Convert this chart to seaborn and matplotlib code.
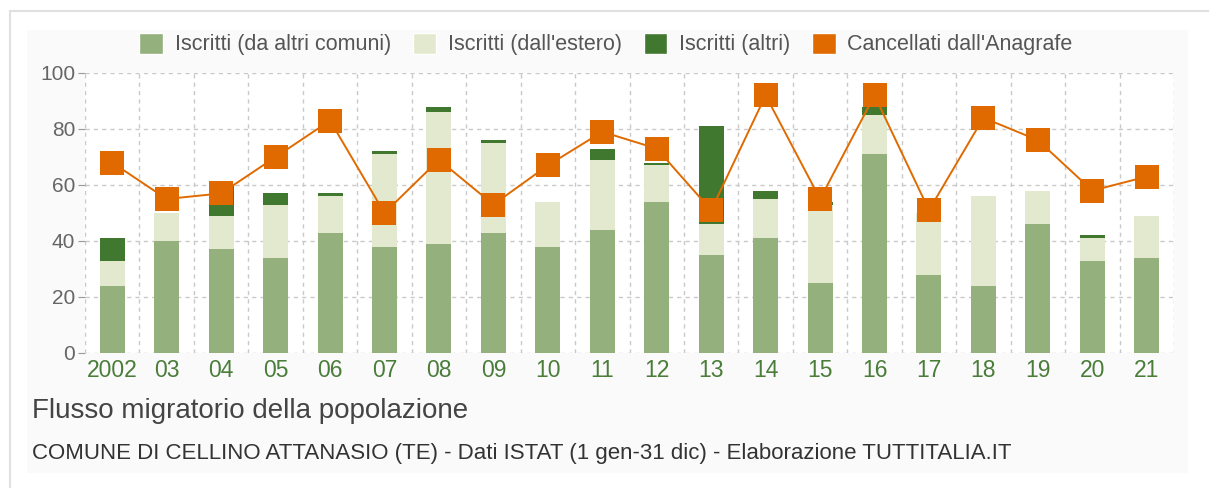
import numpy as np
import pandas as pd
import matplotlib
matplotlib.use("Agg")
import matplotlib.pyplot as plt
from matplotlib.patches import Patch, Rectangle
from matplotlib.lines import Line2D
import seaborn as sns

# 1. Data
anni = ['2002', '03', '04', '05', '06', '07', '08', '09', '10', '11',
        '12', '13', '14', '15', '16', '17', '18', '19', '20', '21']
iscritti_comuni = [24, 40, 37, 34, 43, 38, 39, 43, 38, 44, 54, 35, 41, 25, 71, 28, 24, 46, 33, 34]
iscritti_estero = [9, 10, 12, 19, 13, 33, 47, 32, 16, 25, 13, 11, 14, 28, 14, 22, 32, 12, 8, 15]
iscritti_altri = [8, 0, 11, 4, 1, 1, 2, 1, 0, 4, 1, 35, 3, 1, 3, 0, 0, 0, 1, 0]
cancellati = [68, 55, 57, 70, 83, 50, 69, 53, 67, 79, 73, 51, 92, 55, 92, 51, 84, 76, 58, 63]

df = pd.DataFrame({'anno': anni, 'comuni': iscritti_comuni, 'estero': iscritti_estero,
                   'altri': iscritti_altri, 'cancellati': cancellati})
df['top_estero'] = df['comuni'] + df['estero']
df['top_altri'] = df['top_estero'] + df['altri']

C_COMUNI = '#93b07d'
C_ESTERO = '#e3e9cf'
C_ALTRI = '#41782f'
C_CANC = '#e06a00'
GRID = '#c9c9c9'

sns.set_style('white')
plt.rcParams['font.family'] = ['Liberation Sans', 'DejaVu Sans']

fig = plt.figure(figsize=(12.09, 4.88), dpi=100)

# 2. Background frame and panel
fig.add_artist(Line2D([10 / 1209, 1.0], [1 - 11 / 488, 1 - 11 / 488], color='#e0e0e0', lw=1.5))
fig.add_artist(Line2D([10 / 1209, 10 / 1209], [0.0, 1 - 11 / 488], color='#e0e0e0', lw=1.5))
fig.add_artist(Rectangle((27 / 1209, 1 - 473 / 488), (1188 - 27) / 1209, (473 - 30) / 488,
                         facecolor='#fafafa', edgecolor='none', zorder=0))

ax = fig.add_axes([85 / 1209, 1 - 353 / 488, (1174 - 85) / 1209, (353 - 73) / 488])
ax.set_facecolor('white')

# 3. Stacked bars (tallest layer first)
bw = 0.46
sns.barplot(data=df, x='anno', y='top_altri', color=C_ALTRI, width=bw, saturation=1, ax=ax, zorder=2)
sns.barplot(data=df, x='anno', y='top_estero', color=C_ESTERO, width=bw, saturation=1, ax=ax, zorder=2)
sns.barplot(data=df, x='anno', y='comuni', color=C_COMUNI, width=bw, saturation=1, ax=ax, zorder=2)
for p in ax.patches:
    p.set_edgecolor('none')

# 4. Line of cancellati
sns.pointplot(data=df, x='anno', y='cancellati', color=C_CANC, markers='s', errorbar=None,
              ax=ax, markersize=17, linewidth=1.4, zorder=4)
for ln in ax.lines:
    ln.set_markeredgewidth(0)
    ln.set_zorder(4)

# 5. Axes styling
ax.set_xlim(-0.5, len(anni) - 0.5)
ax.set_ylim(0, 100)
ax.set_yticks(range(0, 101, 20))
ax.set_xticks(np.arange(-0.5, len(anni), 1), minor=True)
ax.grid(False)
ax.grid(True, axis='y', which='major', color=GRID, linestyle=(0, (3, 3)), lw=1, zorder=1)
ax.grid(True, axis='x', which='minor', color=GRID, linestyle=(0, (3, 3)), lw=1, zorder=1)
for s in ax.spines.values():
    s.set_visible(False)
ax.tick_params(axis='y', which='major', length=5, color='#999999', labelcolor='#666666',
               labelsize=15, pad=2, left=True)
ax.tick_params(axis='x', which='both', length=0, labelcolor='#4a7d3a', labelsize=16.5, pad=4)
ax.set_xlabel('')
ax.set_ylabel('')

# 6. Legend
handles = [Patch(facecolor=C_COMUNI, label='Iscritti (da altri comuni)'),
           Patch(facecolor=C_ESTERO, label="Iscritti (dall'estero)"),
           Patch(facecolor=C_ALTRI, label='Iscritti (altri)'),
           Patch(facecolor=C_CANC, label="Cancellati dall'Anagrafe")]
leg = fig.legend(handles=handles, loc='center', bbox_to_anchor=(606 / 1209, 1 - 44 / 488), ncol=4,
                 frameon=False, fontsize=15.5, handlelength=1.1, handleheight=1.15,
                 handletextpad=0.55, columnspacing=1.0, borderaxespad=0)
for t in leg.get_texts():
    t.set_color('#555555')

# 7. Titles
fig.text(32 / 1209, 1 - 411 / 488, 'Flusso migratorio della popolazione', fontsize=20,
         color='#444444', va='center', ha='left')
fig.text(32 / 1209, 1 - 453 / 488,
         'COMUNE DI CELLINO ATTANASIO (TE) - Dati ISTAT (1 gen-31 dic) - Elaborazione TUTTITALIA.IT',
         fontsize=16, color='#333333', va='center', ha='left')

fig.savefig('out.png', dpi=100)
